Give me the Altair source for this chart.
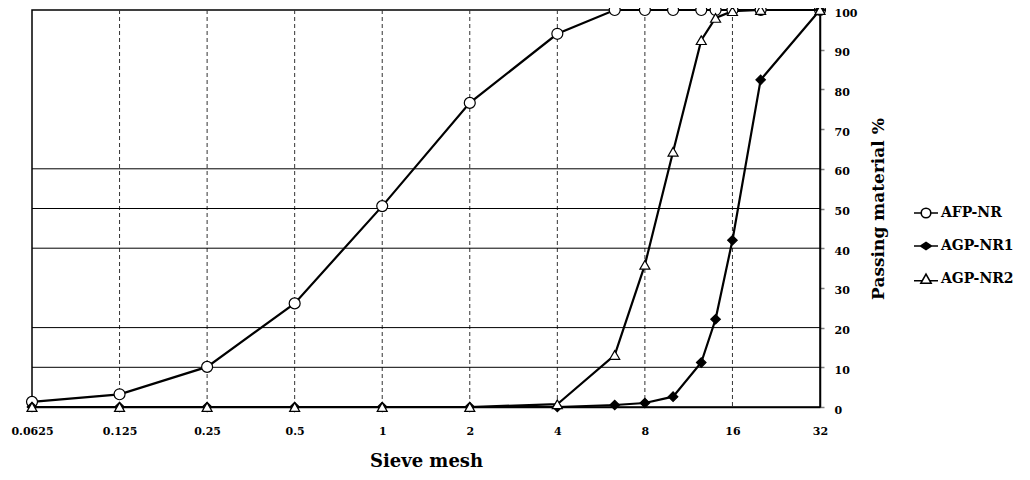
import altair as alt
import pandas as pd

# ---------------- data ----------------
sieve_sizes = [0.0625, 0.125, 0.25, 0.5, 1, 2, 4, 6.3, 8, 10, 12.5, 14, 16, 20, 32]
afp_nr = [1.3, 3.2, 10.1, 26.1, 50.6, 76.6, 94.0, 100, 100, 100, 100, 100, 100, 100, 100]
agp_nr1 = [0, 0, 0, 0, 0, 0, 0, 0.5, 1.0, 2.6, 11.2, 22.1, 42.0, 82.4, 100]
agp_nr2 = [0, 0, 0, 0, 0, 0, 0.7, 13.1, 35.8, 64.3, 92.4, 98.0, 99.7, 100, 100]
series_names = ["AFP-NR", "AGP-NR1", "AGP-NR2"]

x_tick_values = [0.0625, 0.125, 0.25, 0.5, 1, 2, 4, 8, 16, 32]
v_grid_values = [0.125, 0.25, 0.5, 1, 2, 4, 8, 16]
h_grid_values = [10, 20, 40, 50, 60]
y_tick_values = [0, 10, 20, 30, 40, 50, 60, 70, 80, 90, 100]

rows = []
for name, vals in zip(series_names, [afp_nr, agp_nr1, agp_nr2]):
    for s, v in zip(sieve_sizes, vals):
        rows.append({"series": name, "sieve": s, "passing": v})
df = pd.DataFrame(rows)

FONT = "DejaVu Serif"

x_scale = alt.Scale(type="log", base=2, domain=[0.0625, 32], nice=False)
y_scale = alt.Scale(domain=[0, 100], nice=False, zero=True)

# legend symbols: line through marker (custom SVG paths)
legend_paths = [
    "M-2,0H-0.8M0.8,0H2M-0.8,0A0.8,0.8 0 1,1 0.8,0A0.8,0.8 0 1,1 -0.8,0Z",
    "M-2,0H2M0,-0.6L0.9,0L0,0.6L-0.9,0Z",
    "M-2,0.3H-0.62M0.62,0.3H2M0,-0.8L0.85,0.7L-0.85,0.7Z",
]
legend_fills = ["white", "black", "white"]
legend_strokes = ["black", "black", "black"]

x_axis = alt.Axis(
    values=x_tick_values, format="~g", ticks=False, grid=False,
    labelFont=FONT, labelFontWeight="bold", labelFontSize=11, labelColor="black",
    labelPadding=18, labelFlush=False, labelOverlap=False,
    domainColor="black", domainWidth=1.5,
    title="Sieve mesh", titleFont=FONT, titleFontWeight="bold", titleFontSize=18,
    titleColor="black", titlePadding=16,
)
y_axis = alt.Axis(
    orient="right", values=y_tick_values, grid=False,
    tickColor="#808080", tickSize=4, tickWidth=1.5,
    labelFont=FONT, labelFontWeight="bold", labelFontSize=11, labelColor="black",
    labelPadding=10, labelOffset=3,
    domainColor="black", domainWidth=1.5,
    title="Passing material %", titleFont=FONT, titleFontWeight="bold",
    titleFontSize=17, titleColor="black", titleAngle=270, titlePadding=31,
)

X = lambda f: alt.X(f, scale=x_scale, axis=x_axis)
Y = lambda f: alt.Y(f, scale=y_scale, axis=y_axis)

vgrid = alt.Chart(pd.DataFrame({"g": v_grid_values})).mark_rule(
    color="#333333", strokeWidth=1, strokeDash=[4, 3]
).encode(x=X("g:Q"))

hgrid = alt.Chart(pd.DataFrame({"g": h_grid_values})).mark_rule(
    color="black", strokeWidth=1
).encode(y=Y("g:Q"))

base = alt.Chart(df)

lines = base.mark_line(color="black", strokeWidth=2.2).encode(
    x=X("sieve:Q"),
    y=Y("passing:Q"),
    detail="series:N",
    order="sieve:Q",
)

def pts(name, shape, fill, size):
    return base.transform_filter(alt.datum.series == name).mark_point(
        shape=shape, filled=True, fill=fill, stroke="black", strokeWidth=1.2,
        size=size, opacity=1,
    ).encode(x=X("sieve:Q"), y=Y("passing:Q"))

p1 = pts("AFP-NR", "circle", "white", 120)
p2 = pts("AGP-NR1", "diamond", "black", 90)
p3 = pts("AGP-NR2", "triangle-up", "white", 100)

legend_def = alt.Legend(
    title=None, orient="none", legendX=887, legendY=196,
    symbolSize=144, symbolStrokeColor="black", symbolStrokeWidth=1.6,
    symbolOpacity=1,
    labelFont=FONT, labelFontWeight="bold", labelFontSize=14, labelColor="black",
    labelOffset=8, rowPadding=18, padding=0,
)

legend_layer = base.transform_filter("false").mark_point(
    filled=True, strokeWidth=1.6, opacity=1
).encode(
    x=X("sieve:Q"),
    y=Y("passing:Q"),
    shape=alt.Shape("series:N", scale=alt.Scale(domain=series_names, range=legend_paths), legend=legend_def),
    fill=alt.Fill("series:N", scale=alt.Scale(domain=series_names, range=legend_fills), legend=legend_def),
    stroke=alt.Stroke("series:N", scale=alt.Scale(domain=series_names, range=legend_strokes), legend=legend_def),
)

chart = alt.layer(vgrid, hgrid, lines, p1, p2, p3, legend_layer).properties(
    width=788, height=397,
    autosize=alt.AutoSizeParams(type="none"),
    padding={"left": 24, "top": 2, "right": 202, "bottom": 65},
    background="white",
).configure_view(stroke="black", strokeWidth=1.5)

chart.save("out.html", embed_options={"renderer": "svg", "actions": False})
